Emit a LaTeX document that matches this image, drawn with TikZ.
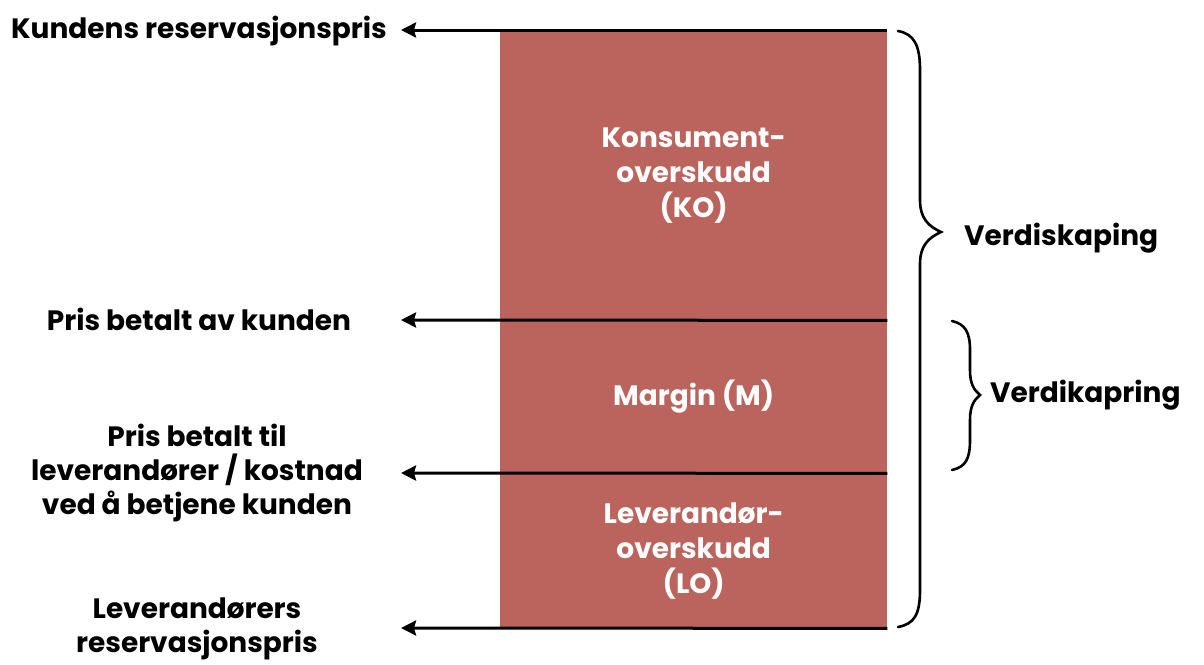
\documentclass[tikz,border=0pt]{standalone}
\usepackage{fontspec}
\setmainfont{Poppins}
\usetikzlibrary{arrows.meta}
\definecolor{band}{RGB}{187,99,93}
\tikzset{
  bandbox/.style={fill=band, draw=none, minimum width=387pt, inner sep=0pt, text=white, align=center, font=\fontsize{28}{35}\selectfont\bfseries},
  lbl/.style={align=center, font=\fontsize{28}{34}\selectfont\bfseries, inner sep=0pt},
  arr/.style={line width=3pt, -{Stealth[length=15pt,width=15pt,inset=2pt]}},
  brc/.style={line width=2.6pt, line cap=round}
}
\begin{document}
\begin{tikzpicture}[x=1pt,y=-1pt]
\useasboundingbox (0,0) rectangle (1204,664);
\node[bandbox, minimum height=290pt, anchor=north west] (ko) at (500,30) {Konsument-\\overskudd\\(KO)};
\node[bandbox, minimum height=153pt, anchor=north west] (m) at (500,320) {Margin (M)};
\node[bandbox, minimum height=155pt, anchor=north west] (lo) at (500,473) {Leverandør-\\overskudd\\(LO)};
\coordinate (t1) at (401,30);
\coordinate (t2) at (401,320);
\coordinate (t3) at (401,473);
\coordinate (t4) at (401,628);
\draw[arr] (ko.north east) -- (t1);
\draw[arr] (ko.south east) -- (t2);
\draw[arr] (m.south east) -- (t3);
\draw[arr] (lo.south east) -- (t4);
\node[lbl] (l1) at (199,31) {Kundens reservasjonspris};
\node[lbl] (l2) at (199,319) {Pris betalt av kunden};
\node[lbl] (l3) at (197,473) {Pris betalt til\\leverandører / kostnad\\ved å betjene kunden};
\node[lbl] (l4) at (197,629) {Leverandørers\\reservasjonspris};
% big brace
\draw[brc] (898,31) .. controls (914,34) and (920,45) .. (920,70)
  -- (920,200) .. controls (920,218) and (928,226) .. (941,232)
  .. controls (928,238) and (920,246) .. (920,264)
  -- (920,590) .. controls (920,615) and (914,624) .. (898,627);
% small brace
\draw[brc] (952,321) .. controls (965,324) and (970,332) .. (970,350)
  -- (970,370) .. controls (970,384) and (974,390) .. (980,395)
  .. controls (974,400) and (970,406) .. (970,420)
  -- (970,440) .. controls (970,460) and (965,467) .. (952,470);
\node[lbl, anchor=west] (v1) at (964,238) {Verdiskaping};
\node[lbl, anchor=west] (v2) at (990,395) {Verdikapring};
\end{tikzpicture}
\end{document}
